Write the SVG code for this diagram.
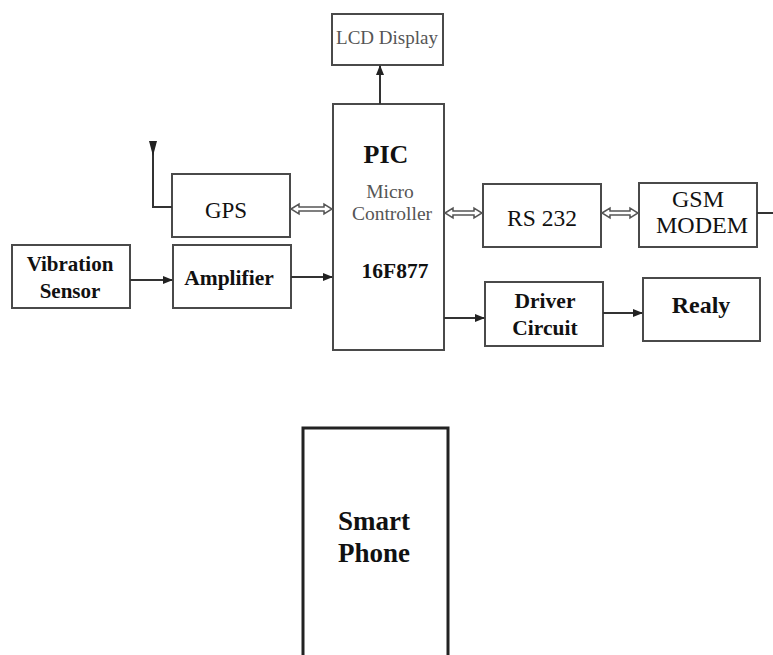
<svg xmlns="http://www.w3.org/2000/svg" width="773" height="655" viewBox="0 0 773 655">
<style>
.box{fill:#fff;stroke:#4a4a4a;stroke-width:2}
.t{text-anchor:middle;fill:#111}
.b{font-weight:bold}
.g{fill:#555}
.ln{fill:none;stroke:#333;stroke-width:2}
.dbl{fill:#fff;stroke:#555;stroke-width:1.5;stroke-linejoin:miter}
</style>
<defs>
<marker id="ah" markerWidth="10" markerHeight="10" refX="9" refY="5" orient="auto" markerUnits="userSpaceOnUse">
<path d="M0,1 L10,5 L0,9 Z" fill="#222"/>
</marker>
</defs>
<rect width="773" height="655" fill="#fff"/>
<g font-family="Liberation Serif, DejaVu Serif, serif">
<g id="lcd"><rect class="box" x="332" y="14" width="111" height="51"/><text class="t g" x="387" y="44" font-size="19">LCD Display</text></g>
<g id="pic"><rect class="box" x="333" y="104" width="111" height="246"/>
<text class="t b" x="386" y="163" font-size="26">PIC</text>
<text class="t g" x="390" y="198" font-size="19.5">Micro</text>
<text class="t g" x="392" y="220" font-size="19.5">Controller</text>
<text class="t b" x="395" y="278" font-size="21.5">16F877</text></g>
<g id="gps"><rect class="box" x="172" y="174" width="118" height="63"/><text class="t" x="226" y="218" font-size="23">GPS</text></g>
<g id="antenna"><path class="ln" d="M153,146 V207 H172"/><path d="M149,141 L157,141 L153,156 Z" fill="#222"/></g>
<g id="vib"><rect class="box" x="12" y="245" width="118" height="63"/><text class="t b" x="70" y="271" font-size="21">Vibration</text><text class="t b" x="70" y="298" font-size="21">Sensor</text></g>
<g id="amp"><rect class="box" x="173" y="245" width="118" height="63"/><text class="t b" x="229" y="285" font-size="21.5">Amplifier</text></g>
<g id="rs232"><rect class="box" x="483" y="184" width="118" height="63"/><text class="t" x="542" y="226" font-size="23.5">RS 232</text></g>
<g id="gsm"><rect class="box" x="639" y="183" width="118" height="64"/><text class="t" x="698" y="207" font-size="24">GSM</text><text class="t" x="702" y="233" font-size="24">MODEM</text></g>
<g id="driver"><rect class="box" x="485" y="282" width="118" height="64"/><text class="t b" x="545" y="308" font-size="21.5">Driver</text><text class="t b" x="545" y="335" font-size="21.5">Circuit</text></g>
<g id="realy"><rect class="box" x="643" y="278" width="117" height="63"/><text class="t b" x="701" y="313" font-size="24">Realy</text></g>
<g id="phone"><rect x="303" y="428" width="145" height="240" fill="#fff" stroke="#222" stroke-width="3"/><text class="t b" x="374" y="530" font-size="27">Smart</text><text class="t b" x="374" y="562" font-size="27">Phone</text></g>
</g>
<g id="connectors">
<line class="ln" x1="380" y1="104" x2="380" y2="66" marker-end="url(#ah)"/>
<line class="ln" x1="130" y1="280" x2="172" y2="280" marker-end="url(#ah)"/>
<line class="ln" x1="291" y1="277" x2="332" y2="277" marker-end="url(#ah)"/>
<line class="ln" x1="444" y1="318" x2="484" y2="318" marker-end="url(#ah)"/>
<line class="ln" x1="603" y1="313" x2="642" y2="313" marker-end="url(#ah)"/>
<line class="ln" x1="757" y1="213" x2="773" y2="213"/>
<path class="dbl" d="M291,209 L299,204 L299,207 L324,207 L324,204 L332,209 L324,214 L324,211 L299,211 L299,214 Z"/>
<path class="dbl" d="M445,213 L453,208 L453,211 L474,211 L474,208 L482,213 L474,218 L474,215 L453,215 L453,218 Z"/>
<path class="dbl" d="M602,213 L610,208 L610,211 L630,211 L630,208 L638,213 L630,218 L630,215 L610,215 L610,218 Z"/>
</g>
</svg>
